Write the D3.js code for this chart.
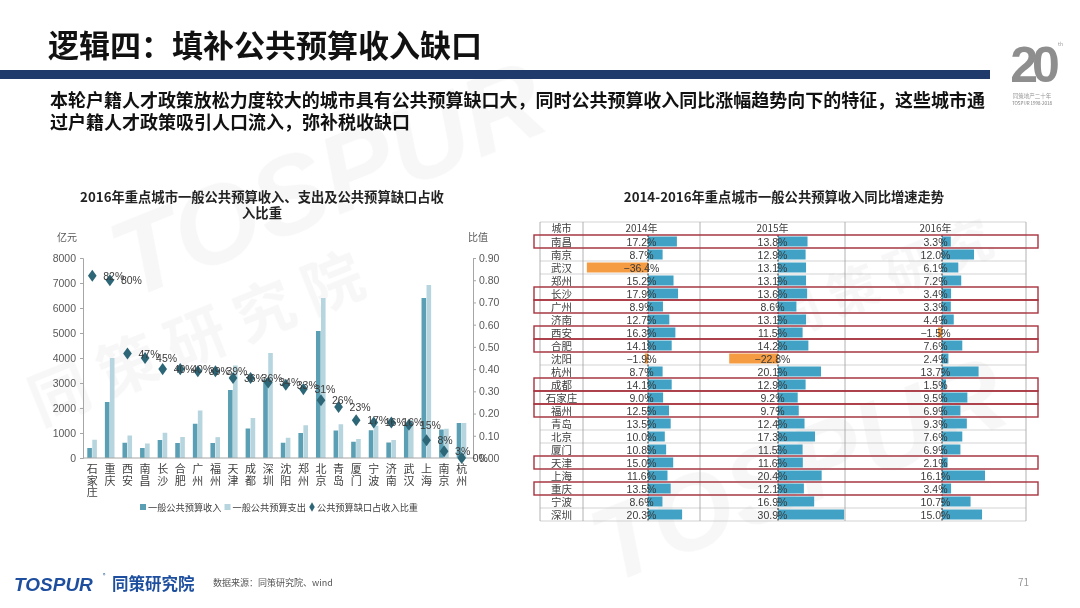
<!DOCTYPE html>
<html><head><meta charset="utf-8">
<script src="https://cdn.jsdelivr.net/npm/d3@7"></script>
<style>
body{margin:0;background:#fff;}
svg{display:block;font-family:"Noto Sans CJK SC","Noto Sans",sans-serif;}
</style></head>
<body><svg id="chart" width="1080" height="608"></svg>
<script>
// ---------- data: left chart ----------
const cities = ["石家庄","重庆","西安","南昌","长沙","合肥","广州","福州","天津","成都","深圳","沈阳","郑州","北京","青岛","厦门","宁波","济南","武汉","上海","南京","杭州"];
const income = [400,2240,610,400,720,600,1370,600,2720,1180,3140,610,1000,5080,1100,650,1110,620,1320,6400,1140,1400];
const expend = [730,4000,900,580,1010,840,1900,835,3700,1600,4200,810,1310,6400,1350,760,1290,720,1520,6920,1170,1400];
const ratio  = [0.82,0.80,0.47,0.45,0.40,0.40,0.39,0.39,0.36,0.36,0.34,0.33,0.31,0.26,0.23,0.17,0.16,0.16,0.15,0.08,0.03,0.00];
const leftTicks = [0,1000,2000,3000,4000,5000,6000,7000,8000];
const rightTicks = [0,0.1,0.2,0.3,0.4,0.5,0.6,0.7,0.8,0.9];
const legendNames = ["一般公共预算收入","一般公共预算支出","公共预算缺口占收入比重"];

// ---------- data: right table ----------
const tCities = ["南昌","南京","武汉","郑州","长沙","广州","济南","西安","合肥","沈阳","杭州","成都","石家庄","福州","青岛","北京","厦门","天津","上海","重庆","宁波","深圳"];
const years = ["2014年","2015年","2016年"];
const g2014 = [17.2,8.7,-36.4,15.2,17.9,8.9,12.7,16.3,14.1,-1.9,8.7,14.1,9.0,12.5,13.5,10.0,10.8,15.0,11.6,13.5,8.6,20.3];
const g2015 = [13.8,12.9,13.1,13.1,13.6,8.6,13.1,11.5,14.2,-22.8,20.1,12.9,9.2,9.7,12.4,17.3,11.5,11.6,20.4,12.1,16.9,30.9];
const g2016 = [3.3,12.0,6.1,7.2,3.4,3.3,4.4,-1.5,7.6,2.4,13.7,1.5,9.5,6.9,9.3,7.6,6.9,2.1,16.1,3.4,10.7,15.0];
const highlight = ["南昌","长沙","广州","西安","合肥","成都","石家庄","福州","天津","重庆"];

const svg = d3.select("#chart");

// ---------- watermark ----------
const wm = svg.append("g").attr("fill","#000").attr("opacity",0.035).attr("font-weight","bold");
wm.append("text").attr("transform","translate(130,300) rotate(-22)").attr("font-size",110).attr("font-style","italic")
  .attr("font-family","Liberation Sans, Arial, sans-serif").text("TOSPUR");
wm.append("text").attr("transform","translate(610,585) rotate(-22)").attr("font-size",105).attr("font-style","italic")
  .attr("font-family","Liberation Sans, Arial, sans-serif").text("TOSPUR");
wm.append("text").attr("transform","translate(40,425) rotate(-22)").attr("font-size",60).text("同 策 研 究 院");
wm.append("text").attr("transform","translate(780,340) rotate(-22)").attr("font-size",50).text("同 策 研 究");

// ---------- header ----------
svg.append("text").attr("x",48).attr("y",57).attr("font-size",31).attr("font-weight","bold").attr("fill","#111")
  .text("逻辑四：填补公共预算收入缺口");
svg.append("rect").attr("x",0).attr("y",70).attr("width",990).attr("height",9).attr("fill","#1f3a6b");
svg.append("text").attr("x",50).attr("y",107).attr("font-size",18).attr("font-weight","bold").attr("fill","#111")
  .attr("textLength",935).attr("lengthAdjust","spacingAndGlyphs")
  .text("本轮户籍人才政策放松力度较大的城市具有公共预算缺口大，同时公共预算收入同比涨幅趋势向下的特征，这些城市通");
svg.append("text").attr("x",50).attr("y",129).attr("font-size",18).attr("font-weight","bold").attr("fill","#111")
  .attr("textLength",360).attr("lengthAdjust","spacingAndGlyphs")
  .text("过户籍人才政策吸引人口流入，弥补税收缺口");
// logo top right
svg.append("text").attr("x",1032).attr("y",82).attr("text-anchor","middle").attr("font-size",50).attr("font-weight","bold")
  .attr("fill","#8e8e8e").attr("font-family","Liberation Sans, Arial, sans-serif").attr("letter-spacing",-6).text("20");
svg.append("text").attr("x",1058).attr("y",46).attr("font-size",5).attr("fill","#999").text("th");
svg.append("text").attr("x",1032).attr("y",98).attr("text-anchor","middle").attr("font-size",5.5).attr("fill","#999").text("同策地产二十年");
svg.append("text").attr("x",1032).attr("y",105).attr("text-anchor","middle").attr("font-size",4.5).attr("fill","#777").text("TOSPUR 1998-2018");

// ---------- left chart ----------
const L = svg.append("g");
L.append("text").attr("x",262).attr("y",202).attr("text-anchor","middle").attr("font-size",13.3).attr("font-weight","bold").attr("fill","#222")
  .text("2016年重点城市一般公共预算收入、支出及公共预算缺口占收");
L.append("text").attr("x",262).attr("y",218).attr("text-anchor","middle").attr("font-size",13.3).attr("font-weight","bold").attr("fill","#222")
  .text("入比重");

const x = d3.scaleBand().domain(cities).range([84,471]).padding(0);
const yL = d3.scaleLinear().domain([0,8000]).range([458,258]);
const yR = d3.scaleLinear().domain([0,0.9]).range([458,258]);
const cx = c => x(c) + x.bandwidth()/2 - 0.5;

const axL = d3.axisLeft(yL).tickValues(leftTicks).tickSize(3).tickPadding(4).tickFormat(d3.format("d"));
const gL = L.append("g").attr("transform","translate(83,0)").call(axL);
const axR = d3.axisRight(yR).tickValues(rightTicks).tickSize(3).tickPadding(3).tickFormat(d3.format(".2f"));
const gR = L.append("g").attr("transform","translate(473,0)").call(axR);
[gL,gR].forEach(g=>{
  g.select(".domain").attr("stroke","#a6a6a6");
  g.selectAll(".tick line").attr("stroke","#a6a6a6");
  g.selectAll(".tick text").attr("font-size",10.5).attr("fill","#595959").attr("font-family","Liberation Sans, Arial, sans-serif");
});
L.append("text").attr("x",67).attr("y",241).attr("text-anchor","middle").attr("font-size",10).attr("fill","#595959").text("亿元");
L.append("text").attr("x",478).attr("y",241).attr("text-anchor","middle").attr("font-size",10).attr("fill","#595959").text("比值");

// bars
L.append("g").selectAll("rect").data(cities).join("rect")
  .attr("x",c=>cx(c)-5).attr("width",4.6)
  .attr("y",(c,i)=>yL(income[i])).attr("height",(c,i)=>yL(0)-yL(income[i]))
  .attr("fill","#5a9fb3");
L.append("g").selectAll("rect").data(cities).join("rect")
  .attr("x",c=>cx(c)).attr("width",4.6)
  .attr("y",(c,i)=>yL(expend[i])).attr("height",(c,i)=>yL(0)-yL(expend[i]))
  .attr("fill","#b7d5de");
// baseline
L.append("line").attr("x1",83).attr("x2",473).attr("y1",yL(0)).attr("y2",yL(0)).attr("stroke","#a6a6a6");
// category labels (vertical)
const cl = L.append("g").attr("font-size",11).attr("fill","#404040");
cities.forEach(c=>{
  const t = cl.append("text").attr("text-anchor","middle");
  Array.from(c).forEach((ch,k)=>{
    t.append("tspan").attr("x",cx(c)).attr("y",473+k*11.5).text(ch);
  });
});
// diamonds
const sym = d3.symbol().type(d3.symbolDiamond).size(42);
L.append("g").selectAll("path").data(cities).join("path")
  .attr("d",sym).attr("transform",(c,i)=>`translate(${cx(c)},${yR(ratio[i])}) scale(1.25,1)`)
  .attr("fill","#2c6677");
L.append("g").selectAll("text").data(cities).join("text")
  .attr("x",c=>cx(c)+11).attr("y",(c,i)=>yR(ratio[i])+4)
  .attr("font-size",10.5).attr("fill","#3a3a3a").attr("font-family","Liberation Sans, Arial, sans-serif")
  .text((c,i)=>d3.format(".0%")(ratio[i]));

// legend
const lg = L.append("g").attr("font-size",9.2).attr("fill","#404040");
let lx = 140;
legendNames.forEach((n,i)=>{
  if(i<2){
    lg.append("rect").attr("x",lx).attr("y",504).attr("width",6).attr("height",6).attr("fill",i==0?"#5a9fb3":"#b7d5de");
  } else {
    lg.append("path").attr("d",d3.symbol().type(d3.symbolDiamond).size(26)).attr("transform",`translate(${lx+3},507)`).attr("fill","#2c6677");
  }
  const t = lg.append("text").attr("x",lx+8).attr("y",510.5).text(n);
  lx += 8 + t.node().getComputedTextLength() + 3;
});

// ---------- right table ----------
const R = svg.append("g");
R.append("text").attr("x",784).attr("y",202).attr("text-anchor","middle").attr("font-size",13.3).attr("font-weight","bold").attr("fill","#222")
  .text("2014-2016年重点城市一般公共预算收入同比增速走势");

const colEdges = [540,583,700,845,1026];
const rowH = 13, tableTop = 222;
const nRows = tCities.length + 1;
const rowY = i => tableTop + i*rowH;
const series = [g2014,g2015,g2016];
const zeroX = [648,778,942];
const pxPerPct = [1.68,2.14,2.67];
const scales = series.map((s,j)=>{
  const ext = d3.extent(s);
  return d3.scaleLinear().domain(ext).range(ext.map(v=>zeroX[j]+v*pxPerPct[j]));
});

// bars
series.forEach((s,j)=>{
  const sc = scales[j];
  R.append("g").selectAll("rect").data(s).join("rect")
    .attr("x",v=>Math.min(sc(v),sc(0))).attr("width",v=>Math.abs(sc(v)-sc(0)))
    .attr("y",(v,i)=>rowY(i+1)+1.5).attr("height",rowH-3)
    .attr("fill",v=>v<0?"#f59b42":"#41a2c6");
});
// grid
const grid = R.append("g").attr("stroke","#c8c8c8").attr("stroke-width",0.8);
for(let i=0;i<=nRows;i++){
  grid.append("line").attr("x1",colEdges[0]).attr("x2",colEdges[4]).attr("y1",rowY(i)).attr("y2",rowY(i));
}
colEdges.forEach(xe=>grid.append("line").attr("x1",xe).attr("x2",xe).attr("y1",rowY(0)).attr("y2",rowY(nRows)).attr("stroke","#a0a0a0"));
// zero lines
series.forEach((s,j)=>{
  R.append("line").attr("x1",scales[j](0)).attr("x2",scales[j](0)).attr("y1",rowY(1)).attr("y2",rowY(nRows))
    .attr("stroke","#222").attr("stroke-width",1).attr("stroke-dasharray","2,1.5");
});
// header text
const colMid = j => (colEdges[j]+colEdges[j+1])/2;
const ht = R.append("g").attr("font-size",10).attr("fill","#404040").attr("text-anchor","middle");
ht.append("text").attr("x",colMid(0)).attr("y",rowY(0)+10).text("城市");
years.forEach((y,j)=>ht.append("text").attr("x",colMid(j+1)).attr("y",rowY(0)+10).text(y));
// cell text
R.append("g").attr("font-size",10.5).attr("fill","#404040").attr("text-anchor","middle")
  .selectAll("text").data(tCities).join("text")
  .attr("x",colMid(0)).attr("y",(d,i)=>rowY(i+1)+10.5).text(d=>d);
series.forEach((s,j)=>{
  R.append("g").attr("font-size",10.5).attr("fill","#3a3a3a").attr("text-anchor","middle")
    .attr("font-family","Liberation Sans, Arial, sans-serif")
    .selectAll("text").data(s).join("text")
    .attr("x",colMid(j+1)).attr("y",(v,i)=>rowY(i+1)+10.5).text(v=>d3.format(".1f")(v)+"%");
});
// red highlight boxes
R.append("g").selectAll("rect").data(highlight).join("rect")
  .attr("x",534).attr("width",504)
  .attr("y",d=>rowY(tCities.indexOf(d)+1)).attr("height",rowH)
  .attr("fill","none").attr("stroke","#a8323e").attr("stroke-width",1.4);

// ---------- footer ----------
svg.append("text").attr("x",14).attr("y",591).attr("font-size",19).attr("font-weight","bold").attr("font-style","italic")
  .attr("font-family","Liberation Sans, Arial, sans-serif").attr("fill","#1d4f9e").text("TOSPUR");
svg.append("text").attr("x",103).attr("y",577).attr("font-size",5).attr("fill","#1d4f9e").text("®");
svg.append("text").attr("x",112).attr("y",590).attr("font-size",16.5).attr("font-weight","bold").attr("fill","#1d4f9e").text("同策研究院");
svg.append("text").attr("x",213).attr("y",586).attr("font-size",9).attr("fill","#555").text("数据来源：同策研究院、wind");
svg.append("text").attr("x",1018).attr("y",586).attr("font-size",10).attr("fill","#999").text("71");
</script></body></html>
